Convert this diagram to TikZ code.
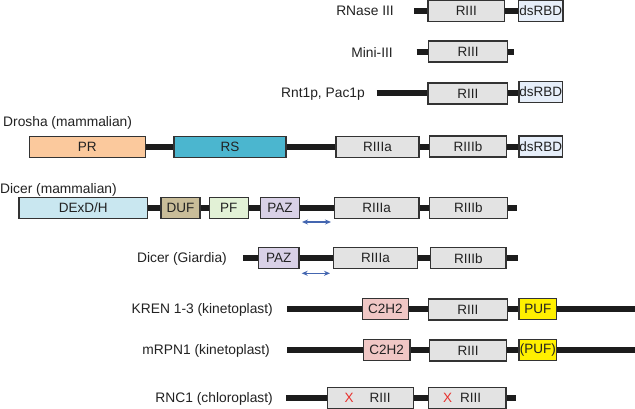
\documentclass[tikz,border=0pt]{standalone}
\usepackage{fontspec}
\setmainfont{Liberation Sans}
\usetikzlibrary{arrows.meta}
\definecolor{graybox}{HTML}{E3E3E3}
\definecolor{dsblue}{HTML}{E6EEF9}
\definecolor{prorange}{HTML}{FBC99D}
\definecolor{rsteal}{HTML}{4BB6CF}
\definecolor{dexblue}{HTML}{C9E7F0}
\definecolor{duftan}{HTML}{C9BD99}
\definecolor{pfgreen}{HTML}{E2F1D6}
\definecolor{pazlav}{HTML}{D9D1E7}
\definecolor{czpink}{HTML}{F0C7C5}
\definecolor{pufyel}{HTML}{FFF000}
\definecolor{edgegray}{HTML}{333333}
\definecolor{linecol}{HTML}{1C1C1C}
\definecolor{arrblue}{HTML}{4466B0}
\definecolor{xred}{HTML}{E8312E}
\definecolor{txt}{HTML}{222222}
\tikzset{
  dom/.style={draw=edgegray, line width=1.1pt, inner sep=0pt, minimum height=21pt,
    font=\fontsize{13.5}{15}\selectfont, text=txt},
  bb/.style={line width=6pt, draw=linecol},
  lab/.style={font=\fontsize{13.8}{15}\selectfont, inner sep=0pt, text=txt},
  gap/.style={arrows={Stealth[length=6pt,width=5pt]-Stealth[length=6pt,width=5pt]}, draw=arrblue, line width=1.2pt},
}
\newcommand{\dm}[6]{% name, x1, x2, yc, fill, text
  \pgfmathsetmacro{\dmw}{#3-#2}\pgfmathsetmacro{\dmc}{(#2+#3)/2}
  \node[dom, fill=#5, minimum width=\dmw pt] (#1) at (\dmc,#4) {#6};}
\begin{document}
\begin{tikzpicture}[x=1pt,y=-1pt]
\useasboundingbox[fill=white] (0,0) rectangle (635,408);
% Row 1 RNase III
\node[lab, anchor=east] (l1) at (394,11) {RNase III};
\coordinate (s1) at (414,10.5);
\draw[bb] (s1) -- (541,10.5);
\dm{r1a}{428}{504.5}{10.8}{graybox}{RIII}
\dm{r1b}{518.5}{563}{10.8}{dsblue}{dsRBD}
% Row 2 Mini-III
\node[lab, anchor=east] (l2) at (393,52) {Mini-III};
\coordinate (s2) at (416.5,51.5); \coordinate (e2) at (514,51.5);
\draw[bb] (s2) -- (e2);
\dm{r2a}{428.3}{507.7}{51.5}{graybox}{RIII}
% Row 3 Rnt1p
\node[lab, anchor=east] (l3) at (365,94) {Rnt1p, Pac1p};
\coordinate (s3) at (376.7,93);
\draw[bb] (s3) -- (540,93);
\dm{r3a}{428}{507.7}{93.5}{graybox}{RIII}
\dm{r3b}{519}{562.7}{92}{dsblue}{dsRBD}
% Row 4 Drosha
\node[lab, anchor=west] (l4) at (3,122.5) {Drosha (mammalian)};
\draw[bb] (90,146.5) -- (540,146.5);
\dm{r4a}{29.3}{145.3}{146.8}{prorange}{PR}
\dm{r4b}{174}{286}{146.8}{rsteal}{RS}
\dm{r4c}{336}{419}{146.8}{graybox}{RIIIa}
\dm{r4d}{429.3}{506.7}{146.5}{graybox}{RIIIb}
\dm{r4e}{519}{562.7}{146.5}{dsblue}{dsRBD}
% Row 5 Dicer mammalian
\node[lab, anchor=west] (l5) at (0,190) {Dicer (mammalian)};
\coordinate (e5) at (517.3,208);
\draw[bb] (80,208) -- (e5);
\dm{r5a}{19}{147.7}{208}{dexblue}{DExD/H}
\dm{r5b}{161}{200}{208}{duftan}{DUF}
\dm{r5c}{209.3}{248.3}{208}{pfgreen}{PF}
\dm{r5d}{260.7}{299.3}{208}{pazlav}{PAZ}
\dm{r5e}{334.3}{419}{208}{graybox}{RIIIa}
\dm{r5f}{429.3}{507.3}{208}{graybox}{RIIIb}
\coordinate (a5l) at (302,222); \coordinate (a5r) at (331,222);
\draw[gap] (a5l) -- (a5r);
% Row 6 Dicer Giardia
\node[lab, anchor=east] (l6) at (227,258.5) {Dicer (Giardia)};
\coordinate (s6) at (243.3,258.3); \coordinate (e6) at (518.3,258.3);
\draw[bb] (s6) -- (e6);
\dm{r6a}{258.3}{299}{258.3}{pazlav}{PAZ}
\dm{r6b}{333.3}{417.7}{258.3}{graybox}{RIIIa}
\dm{r6c}{430.7}{506}{258.3}{graybox}{RIIIb}
\coordinate (a6l) at (301.7,273.3); \coordinate (a6r) at (330,273.3);
\draw[gap] (a6l) -- (a6r);
% Row 7 KREN
\node[lab, anchor=east] (l7) at (273,309.5) {KREN 1-3 (kinetoplast)};
\coordinate (s7) at (287.3,309); \coordinate (e7) at (635,309);
\draw[bb] (s7) -- (e7);
\dm{r7a}{362.3}{408.3}{309}{czpink}{C2H2}
\dm{r7b}{428.3}{507.3}{309.5}{graybox}{RIII}
\dm{r7c}{519}{556.7}{309}{pufyel}{PUF}
% Row 8 mRPN1
\node[lab, anchor=east] (l8) at (270,351) {mRPN1 (kinetoplast)};
\coordinate (s8) at (287.3,350.3); \coordinate (e8) at (635,350.3);
\draw[bb] (s8) -- (e8);
\dm{r8a}{363.3}{410}{350.3}{czpink}{C2H2}
\dm{r8b}{429.3}{506.7}{350.5}{graybox}{RIII}
\dm{r8c}{519}{556.7}{350.3}{pufyel}{(PUF)}
% Row 9 RNC1
\node[lab, anchor=east] (l9) at (273,398.5) {RNC1 (chloroplast)};
\coordinate (s9) at (286,397.8); \coordinate (e9) at (515.7,397.8);
\draw[bb] (s9) -- (e9);
\dm{r9a}{327.7}{413.3}{397.8}{graybox}{}
\dm{r9b}{428.3}{506}{397.8}{graybox}{}
\node[lab, font=\fontsize{13.5}{15}\selectfont] (t9a) at (380,398.3) {RIII};
\node[lab, font=\fontsize{13.5}{15}\selectfont] (t9b) at (470.7,398.3) {RIII};
\node[lab, font=\fontsize{13.5}{15}\selectfont, text=xred] (x9a) at (349,398.3) {X};
\node[lab, font=\fontsize{13.5}{15}\selectfont, text=xred] (x9b) at (447.7,398.3) {X};
\end{tikzpicture}
\end{document}
